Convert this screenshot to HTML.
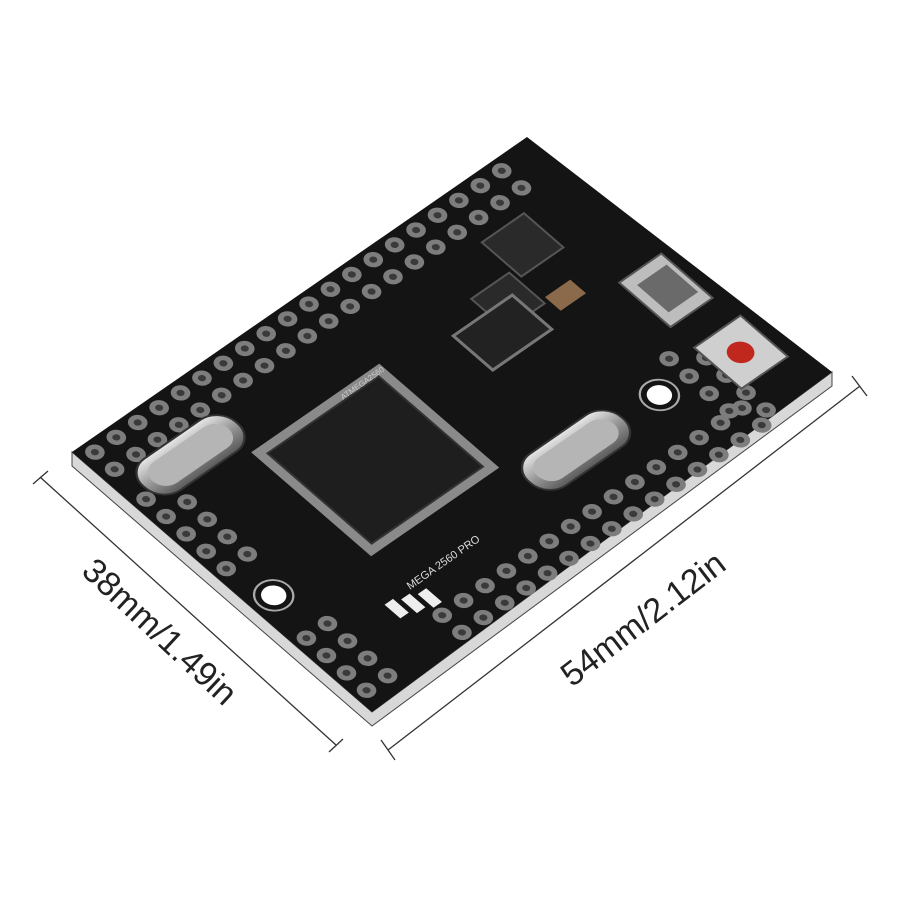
<!DOCTYPE html>
<html><head><meta charset="utf-8"><style>
html,body{margin:0;padding:0;background:#fff}
svg{display:block}
text{font-family:"Liberation Sans",sans-serif}
</style></head><body>
<svg id="s" width="900" height="900" viewBox="0 0 900 900" xmlns="http://www.w3.org/2000/svg">
<defs>
<linearGradient id="xt" x1="0" y1="0" x2="0" y2="1"><stop offset="0" stop-color="#e8e8e8"/><stop offset="0.5" stop-color="#9a9a9a"/><stop offset="1" stop-color="#5a5a5a"/></linearGradient>
</defs>
<rect width="900" height="900" fill="#fff"/>
<polygon points="72,452 372,712 832,372 832,386 372,726 72,466" fill="#d8d8d8" stroke="#444" stroke-width="1"/>
<polygon points="72,452 527,137 832,372 372,712" fill="#141414"/>
<g id="b" transform="matrix(8.43,-5.83,7.89,6.84,72,452)">
<g id="pads"></g>
<g transform="translate(19.4,17.7)">
<rect x="-7.6" y="-7.6" width="15.2" height="15.2" fill="#8a8a8a"/>
<rect x="-6.6" y="-6.6" width="13.2" height="13.2" fill="#1e1e1e" stroke="#333" stroke-width="0.2"/>
</g>
<g transform="translate(7.6,6.9)"><rect x="-5.5" y="-2.3" width="11" height="4.6" rx="2.2" fill="url(#xt)" stroke="#333" stroke-width="0.2"/><rect x="-4.5" y="-1.5" width="9" height="3" rx="1.5" fill="#b5b5b5"/></g>
<g transform="translate(33.4,28.2)"><rect x="-5.5" y="-2.3" width="11" height="4.6" rx="2.2" fill="url(#xt)" stroke="#333" stroke-width="0.2"/><rect x="-4.5" y="-1.5" width="9" height="3" rx="1.5" fill="#b5b5b5"/></g>
<rect x="49" y="17" width="5" height="6.5" fill="#bdbdbd" stroke="#555" stroke-width="0.2"/>
<rect x="50" y="18.2" width="3.5" height="4" fill="#6a6a6a"/>
<rect x="49" y="26.5" width="5.5" height="6" fill="#cfcfcf" stroke="#555" stroke-width="0.2"/>
<circle cx="51.7" cy="29.5" r="1.2" fill="#c0281e"/>
<rect x="43" y="6" width="5" height="5" fill="#2a2a2a" stroke="#555" stroke-width="0.2"/>
<rect x="38" y="10" width="4.5" height="4.5" fill="#2a2a2a" stroke="#555" stroke-width="0.2"/>
<rect x="34" y="12" width="7" height="5" fill="#222" stroke="#777" stroke-width="0.3"/>
<rect x="43" y="14" width="3" height="2" fill="#8a6a4a"/>
<rect x="9" y="30" width="1" height="2" fill="#eee"/><rect x="10.5" y="30.5" width="1" height="2" fill="#eee"/><rect x="12" y="31" width="1" height="2" fill="#eee"/>
<circle cx="43.1" cy="28.4" r="1.7" fill="#141414" stroke="#aaa" stroke-width="0.2"/><circle cx="43.1" cy="28.4" r="1.1" fill="#fff"/>
<circle cx="2.4" cy="23" r="1.7" fill="#141414" stroke="#aaa" stroke-width="0.2"/><circle cx="2.4" cy="23" r="1.1" fill="#fff"/>
</g>
<text font-size="11" fill="#ddd" transform="translate(410,590) rotate(-35)">MEGA 2560 PRO</text>
<text font-size="8" fill="#ccc" transform="translate(343,400) rotate(-35)">ATMEGA2560</text>
<g stroke="#333" stroke-width="1.3" fill="none">
<line x1="40" y1="477" x2="336" y2="745"/>
<line x1="33" y1="484" x2="48" y2="471"/>
<line x1="329" y1="752" x2="343" y2="739"/>
<line x1="388" y1="750" x2="860" y2="386"/>
<line x1="381" y1="740" x2="395" y2="760"/>
<line x1="852" y1="376" x2="867" y2="396"/>
</g>
<text font-size="34" fill="#222" text-anchor="middle" transform="translate(152,640) rotate(43)">38mm/1.49in</text>
<text font-size="34" fill="#222" text-anchor="middle" transform="translate(650,628) rotate(-37.5)">54mm/2.12in</text>
</svg>
<script>
var g=document.getElementById('pads'),ns='http://www.w3.org/2000/svg';
function pad(u,v){var c=document.createElementNS(ns,'circle');c.setAttribute('cx',u);c.setAttribute('cy',v);c.setAttribute('r',0.85);c.setAttribute('fill','#7d7d7d');g.appendChild(c);
var d=document.createElementNS(ns,'circle');d.setAttribute('cx',u);d.setAttribute('cy',v);d.setAttribute('r',0.35);d.setAttribute('fill','#3a3a3a');g.appendChild(d);}
for(var u=1.5;u<52;u+=2.54){pad(u,1.3);pad(u,3.8);}
for(var u=12;u<50;u+=2.54){pad(u,36.6);pad(u,34.1);}
for(var v=8;v<37;v+=2.54){if(v>20&&v<26)continue;pad(1.3,v);pad(3.8,v);}
for(var v=26;v<34;v+=2.54){pad(46.5,v);pad(49,v+2);}
</script>
</body></html>
